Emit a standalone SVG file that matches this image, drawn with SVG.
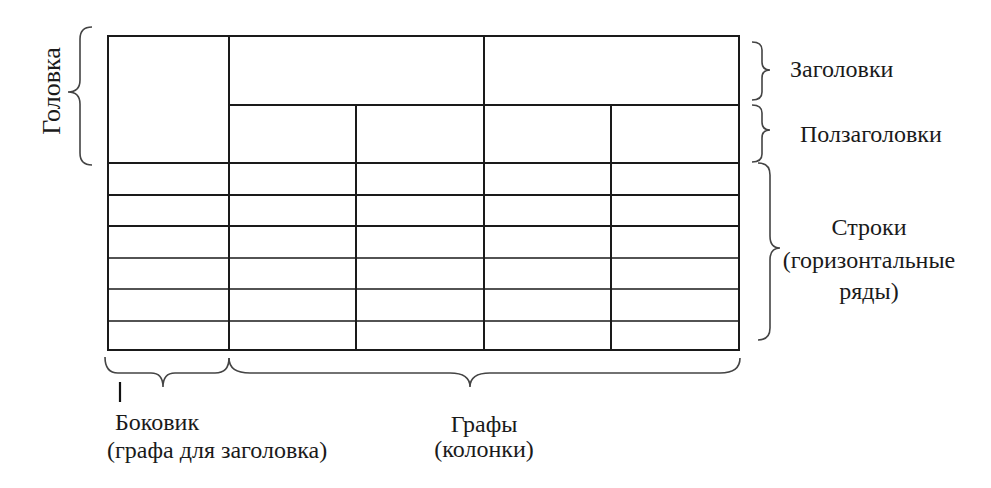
<svg xmlns="http://www.w3.org/2000/svg" width="991" height="488" viewBox="0 0 991 488">
<style>
.g{stroke:#1a1a1a;stroke-width:2;fill:none}
.gt{stroke:#1a1a1a;stroke-width:1.6;fill:none}
.b{stroke:#444;stroke-width:1.6;fill:none}
</style>
<rect width="991" height="488" fill="#fff"/>
<g id="table">
<rect class="g" x="108" y="36" width="631" height="314"/>
<line class="g" x1="229" y1="36" x2="229" y2="350"/>
<line class="g" x1="484" y1="36" x2="484" y2="350"/>
<line class="g" x1="356" y1="105" x2="356" y2="350"/>
<line class="g" x1="611" y1="105" x2="611" y2="350"/>
<line class="g" x1="229" y1="105" x2="739" y2="105"/>
<line class="g" x1="108" y1="163" x2="739" y2="163"/>
<line class="g" x1="108" y1="195" x2="739" y2="195"/>
<line class="g" x1="108" y1="226" x2="739" y2="226"/>
<line class="gt" x1="108" y1="258" x2="739" y2="258"/>
<line class="gt" x1="108" y1="289" x2="739" y2="289"/>
<line class="gt" x1="108" y1="321" x2="739" y2="321"/>
</g>
<g id="connectors">
<path class="b" d="M92,27 Q80,27 80,39 L80,80 Q80,92 68,92 Q80,92 80,104 L80,153 Q80,165 92,165"/>
<path class="b" d="M752,42 Q762,42 762,50 L762,62 Q762,70 770,70 Q762,70 762,78 L762,92 Q762,100 752,100"/>
<path class="b" d="M752,105 Q762,105 762,113 L762,122 Q762,130 770,130 Q762,130 762,138 L762,154 Q762,162 752,162"/>
<path class="b" d="M758,163 Q770,163 770,175 L770,236 Q770,248 780,248 Q770,248 770,260 L770,328 Q770,340 758,340"/>
<path class="b" d="M105,357 Q105,373 118,373 L151,373 Q163,373 163,387 Q163,373 175,373 L215,373 Q229,373 229,358"/>
<path class="b" d="M229,358 Q229,373 250,373 L450,373 Q470,373 470,387 Q470,373 490,373 L720,373 Q740,373 740,358"/>
<line x1="120" y1="382" x2="120" y2="402" stroke="#111" stroke-width="2.2"/>
</g>
<g id="labels" font-family="Liberation Serif, Times New Roman, serif" font-size="24" fill="#1a1a1a">
<text transform="translate(60,91) rotate(-90)" text-anchor="middle" font-size="26">Головка</text>
<text x="790" y="77">Заголовки</text>
<text x="800" y="142">Ползаголовки</text>
<text x="869" y="235" text-anchor="middle">Строки</text>
<text x="869" y="268" text-anchor="middle">(горизонтальные</text>
<text x="869" y="299" text-anchor="middle">ряды)</text>
<text x="115" y="430">Боковик</text>
<text x="107" y="458">(графа для заголовка)</text>
<text x="484" y="432" text-anchor="middle">Графы</text>
<text x="484" y="457" text-anchor="middle">(колонки)</text>
</g>
</svg>
